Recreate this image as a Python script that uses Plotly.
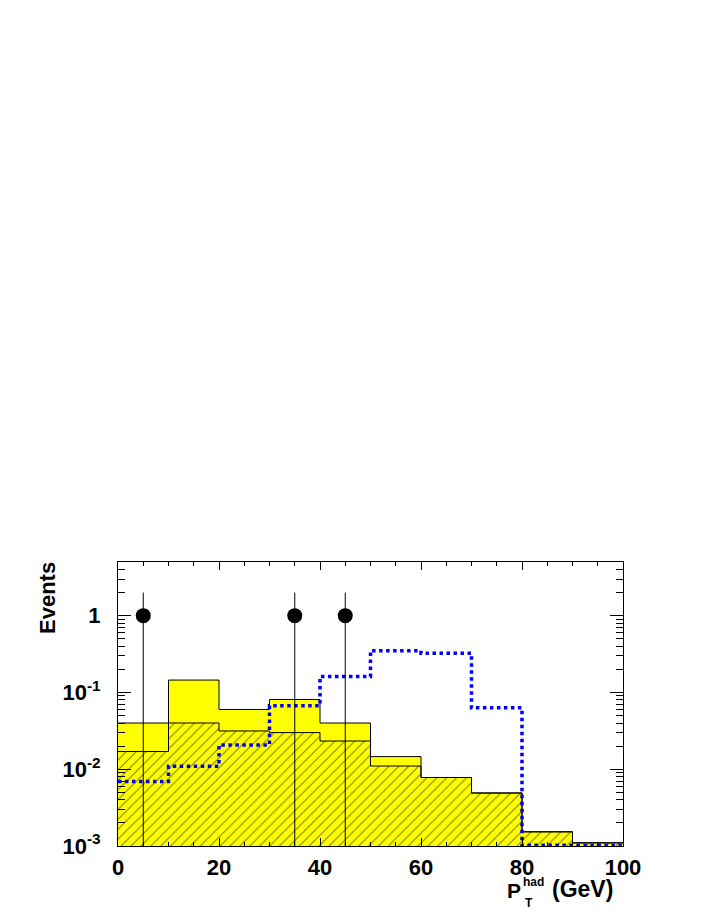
import math
import plotly.graph_objects as go

# histogram bins (GeV)
bin_edges = [0, 10, 20, 30, 40, 50, 60, 70, 80, 90, 100]
bin_centers = [5, 15, 25, 35, 45, 55, 65, 75, 85, 95]

# total background (yellow) and hatched component
total_bkg = [0.040, 0.145, 0.060, 0.081, 0.040, 0.0146, 0.0078, 0.0049, 0.00153, 0.0011]
hatched_bkg = [0.017, 0.040, 0.0315, 0.030, 0.0233, 0.011, 0.0078, 0.0049, 0.00153, 0.0011]

# signal (blue dotted)
signal = [0.0069, 0.0109, 0.0207, 0.067, 0.161, 0.35, 0.324, 0.063, 0.0, 0.0]

# data points
data_x = [5, 35, 45]
data_y = [1, 1, 1]
data_err = [1, 1, 1]

y_ticks = [0.001, 0.01, 0.1, 1]
y_ticklabels = ["10<sup>-3</sup>", "10<sup>-2</sup>", "10<sup>-1</sup>", "1"]

Y_MIN, Y_MAX = 1e-3, 5.0
FONT = "Liberation Sans"


def step(vals):
    # histogram outline: repeat last value so 'hv' closes the final bin
    return bin_edges, list(vals) + [vals[-1]]


fig = go.Figure()

fig.add_trace(go.Bar(
    x=bin_centers, y=total_bkg, width=10,
    marker=dict(color="#ffff00", line=dict(width=0)),
))
fig.add_trace(go.Bar(
    x=bin_centers, y=hatched_bkg, width=10,
    marker=dict(color="#ffff00", line=dict(width=0),
                pattern=dict(shape="/", fgcolor="black", bgcolor="#ffff00",
                             size=7, solidity=0.15)),
))

for vals in (total_bkg, hatched_bkg):
    sx, sy = step(vals)
    fig.add_trace(go.Scatter(x=sx, y=sy, mode="lines", line_shape="hv",
                             line=dict(color="black", width=1)))

sig_plot = [max(v, Y_MIN * 1.02) for v in signal]
sx, sy = step(sig_plot)
fig.add_trace(go.Scatter(x=sx, y=sy, mode="lines", line_shape="hv",
                         line=dict(color="#0000ff", width=3.5, dash="dot")))

err_lo = [min(e, y - Y_MIN / 2) for y, e in zip(data_y, data_err)]
fig.add_trace(go.Scatter(
    x=data_x, y=data_y, mode="markers",
    marker=dict(color="black", size=15, symbol="circle"),
    error_y=dict(type="data", array=data_err, arrayminus=err_lo,
                 color="black", thickness=1, width=0),
))

# the page body adds an 8px offset, so margins are trimmed by that amount
fig.update_layout(
    width=708, height=917,
    margin=dict(l=110, r=93, t=554, b=79),
    paper_bgcolor="white", plot_bgcolor="white",
    barmode="overlay", bargap=0, showlegend=False,
    font=dict(family=FONT, color="black"),
)

fig.update_xaxes(
    range=[0, 100], tickvals=[0, 20, 40, 60, 80, 100],
    ticks="inside", ticklen=8, tickcolor="black",
    minor=dict(dtick=5, ticks="inside", ticklen=4, tickcolor="black"),
    showline=True, linecolor="black", linewidth=1, mirror="allticks",
    showgrid=False, zeroline=False,
    tickfont=dict(size=22, family=FONT, weight="bold"),
    ticklabelstandoff=2,
)
fig.update_yaxes(
    type="log", range=[math.log10(Y_MIN), math.log10(Y_MAX)],
    tickvals=y_ticks, ticktext=y_ticklabels,
    ticks="inside", ticklen=13, tickcolor="black",
    minor=dict(dtick="D1", ticks="inside", ticklen=7, tickcolor="black"),
    showline=True, linecolor="black", linewidth=1, mirror="allticks",
    showgrid=False, zeroline=False,
    tickfont=dict(size=22, family=FONT, weight="bold"),
    ticklabelstandoff=12,
)


# axis titles (positions in screen pixels relative to the 118..623 x 562..846 frame)
def px(x):
    return (x - 118) / 505


def py(y):
    return (846 - y) / 284


def label(text, x, y, size, **kw):
    fig.add_annotation(text=f"<b>{text}</b>", xref="paper", yref="paper",
                       x=px(x), y=py(y), showarrow=False, borderpad=0,
                       font=dict(size=size, family=FONT), yanchor="middle", **kw)


label("Events", 47, 598, 22, textangle=-90, xanchor="center")
label("P", 506, 890, 21, xanchor="left")
label("had", 522, 882, 12, xanchor="left")
label("T", 524, 903, 12, xanchor="left")
label("(GeV)", 551, 889, 23, xanchor="left")

fig.write_html("out.html")
